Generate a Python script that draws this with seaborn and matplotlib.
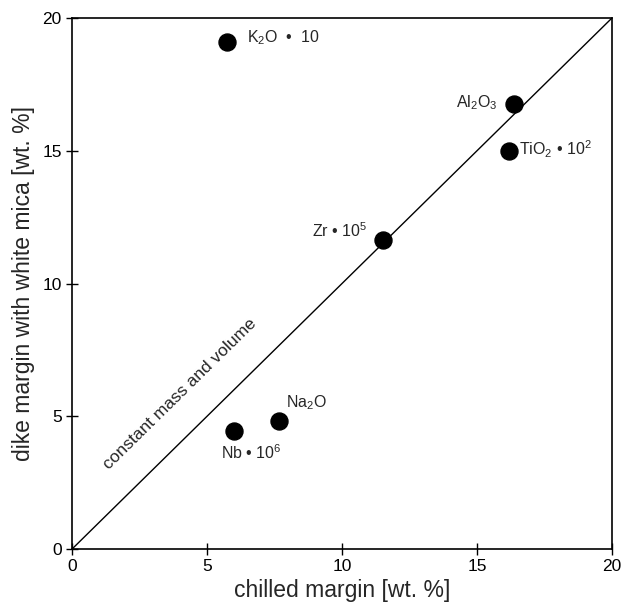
import matplotlib
matplotlib.use("Agg")
import matplotlib.pyplot as plt
import seaborn as sns
import pandas as pd

# data
labels = ["K$_2$O  •  10", "Al$_2$O$_3$", "TiO$_2$ • 10$^2$", "Zr • 10$^5$", "Nb • 10$^6$", "Na$_2$O"]
chilled = [5.74, 16.37, 16.19, 11.52, 6.0, 7.67]
dike = [19.1, 16.76, 14.99, 11.64, 4.44, 4.82]
ref_line = [0, 20]

sns.set_style("ticks")
plt.rcParams['font.family'] = ['Liberation Sans', 'DejaVu Sans']
plt.rcParams['mathtext.fontset'] = 'custom'
plt.rcParams['mathtext.rm'] = 'Liberation Sans'

df = pd.DataFrame({'chilled': chilled, 'dike': dike, 'label': labels})

fig = plt.figure(figsize=(6.27, 6.11), dpi=100)
ax = fig.add_axes([0.115, 0.1015, 0.861, 0.869])

ax.plot(ref_line, ref_line, color='black', lw=1)
sns.scatterplot(x='chilled', y='dike', data=df, color='black', s=150,
                edgecolor='black', ax=ax, zorder=3)

# label placement: (dx, dy, ha, va)
offsets = [(0.75, 0.15, 'left', 'center'),
           (-0.6, 0.05, 'right', 'center'),
           (0.35, 0.05, 'left', 'center'),
           (-0.6, 0.35, 'right', 'center'),
           (0.65, -0.8, 'center', 'center'),
           (0.25, 0.7, 'left', 'center')]
for (lab, x, y), (dx, dy, ha, va) in zip(zip(labels, chilled, dike), offsets):
    ax.text(x + dx, y + dy, lab, ha=ha, va=va, fontsize=11.5)

ax.text(4.0, 5.85, "constant mass and volume", rotation=44.5,
        rotation_mode='anchor', ha='center', va='center', fontsize=12.5)

ax.set_xlim(0, 20)
ax.set_ylim(0, 20)
ax.set_xticks([0, 5, 10, 15, 20])
ax.set_yticks([0, 5, 10, 15, 20])
ax.tick_params(direction='inout', length=8, width=1, labelsize=12.5, colors='black')
for sp in ax.spines.values():
    sp.set_linewidth(1.2)
    sp.set_color('black')

ax.set_xlabel("chilled margin [wt. %]", fontsize=16.5, labelpad=3)
ax.set_ylabel("dike margin with white mica [wt. %]", fontsize=16.5, labelpad=5)

fig.savefig("out.png", dpi=100)
